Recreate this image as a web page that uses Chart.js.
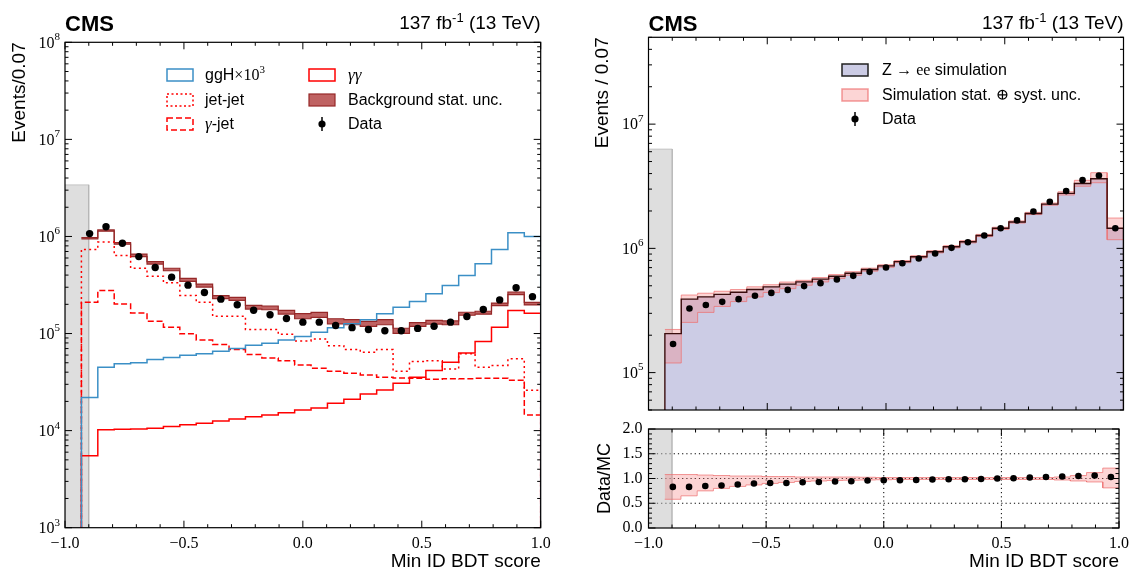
<!DOCTYPE html>
<html><head><meta charset="utf-8">
<script src="https://cdn.jsdelivr.net/npm/chart.js@4.4.1/dist/chart.umd.min.js"></script>
<style>
html,body{margin:0;padding:0;background:#fff;width:1135px;height:572px;overflow:hidden}
canvas{position:absolute}
</style></head><body>
<canvas id="cL" width="580" height="572" style="left:0;top:0"></canvas>
<canvas id="cR" width="555" height="420" style="left:580px;top:0"></canvas>
<canvas id="cQ" width="555" height="152" style="left:580px;top:420px"></canvas>
<script>
// ---------- data ----------
const binEdges = [-0.93103,-0.86207,-0.79310,-0.72414,-0.65517,-0.58621,-0.51724,-0.44828,-0.37931,-0.31034,-0.24138,-0.17241,-0.10345,-0.03448,0.03448,0.10345,0.17241,0.24138,0.31034,0.37931,0.44828,0.51724,0.58621,0.65517,0.72414,0.79310,0.86207,0.93103,1.0];
// left panel
const ggHx1000 = [2.2e4,4.5e4,4.87e4,5.0e4,5.4e4,5.66e4,5.97e4,6.2e4,6.58e4,7.0e4,7.57e4,7.94e4,8.6e4,9.3e4,1.03e5,1.15e5,1.26e5,1.39e5,1.6e5,1.87e5,2.14e5,2.57e5,3.12e5,3.96e5,5.23e5,7.35e5,1.09e6,1.0e6];
const diphoton = [5.5e3,1.02e4,1.03e4,1.04e4,1.06e4,1.10e4,1.15e4,1.19e4,1.26e4,1.32e4,1.39e4,1.45e4,1.53e4,1.63e4,1.71e4,1.91e4,2.1e4,2.39e4,2.62e4,3.07e4,3.55e4,4.16e4,5.06e4,6.3e4,8.3e4,1.16e5,1.73e5,1.62e5];
const jetjet = [7.35e5,8.75e5,6.37e5,4.71e5,3.9e5,3.33e5,2.47e5,2.1e5,1.51e5,1.51e5,1.1e5,1.1e5,9.84e4,8.4e4,8.8e4,7.5e4,6.84e4,6.4e4,6.84e4,4.08e4,5.14e4,5.26e4,4.3e4,6.18e4,4.5e4,4.68e4,5.5e4,2.6e4];
const gammajet = [2.1e5,2.78e5,2.02e5,1.63e5,1.34e5,1.16e5,9.93e4,8.6e4,7.7e4,6.84e4,6.1e4,5.6e4,5.26e4,4.75e4,4.39e4,4.08e4,3.9e4,3.75e4,3.55e4,3.49e4,3.46e4,3.38e4,3.43e4,3.42e4,3.46e4,3.46e4,3.3e4,1.45e4];
const bkgTotal = [9.6e5,1.15e6,8.5e5,6.4e5,5.35e5,4.57e5,3.57e5,3.12e5,2.37e5,2.28e5,1.87e5,1.84e5,1.66e5,1.51e5,1.56e5,1.34e5,1.31e5,1.26e5,1.31e5,1.07e5,1.24e5,1.31e5,1.29e5,1.6e5,1.64e5,2.0e5,2.6e5,2.03e5];
const bkgStatUnc = [0.015,0.015,0.02,0.03,0.03,0.03,0.035,0.035,0.035,0.035,0.045,0.045,0.045,0.06,0.06,0.06,0.06,0.06,0.06,0.06,0.045,0.045,0.045,0.035,0.035,0.03,0.03,0.03];
const dataLeft = [1.07e6,1.26e6,8.5e5,6.2e5,4.79e5,3.81e5,3.15e5,2.65e5,2.26e5,1.98e5,1.74e5,1.56e5,1.43e5,1.31e5,1.31e5,1.21e5,1.15e5,1.1e5,1.07e5,1.07e5,1.13e5,1.19e5,1.31e5,1.5e5,1.77e5,2.22e5,2.96e5,2.4e5];
// right panel
const zeeSim = [2.06e5,3.9e5,4.07e5,4.26e5,4.44e5,4.67e5,4.9e5,5.15e5,5.37e5,5.65e5,5.97e5,6.3e5,6.76e5,7.23e5,7.82e5,8.55e5,9.38e5,1.03e6,1.13e6,1.27e6,1.45e6,1.63e6,1.91e6,2.27e6,2.77e6,3.33e6,3.63e6,1.45e6];
const simUncUp = [1.08,1.08,1.07,1.06,1.05,1.05,1.04,1.04,1.03,1.03,1.03,1.03,1.025,1.02,1.02,1.02,1.02,1.02,1.02,1.02,1.02,1.02,1.02,1.02,1.03,1.06,1.12,1.21];
const simUncDown = [0.58,0.65,0.75,0.80,0.84,0.87,0.90,0.92,0.94,0.95,0.96,0.965,0.97,0.975,0.98,0.98,0.98,0.98,0.98,0.98,0.98,0.98,0.98,0.98,0.97,0.95,0.93,0.81];
const dataRight = [1.7e5,3.28e5,3.5e5,3.71e5,3.9e5,4.15e5,4.38e5,4.63e5,4.97e5,5.25e5,5.61e5,6.01e5,6.47e5,7.02e5,7.6e5,8.28e5,9.1e5,1.01e6,1.12e6,1.27e6,1.45e6,1.68e6,1.98e6,2.37e6,2.89e6,3.54e6,3.86e6,1.45e6];
const ratioDataMC = [0.83,0.83,0.85,0.86,0.88,0.90,0.91,0.91,0.925,0.93,0.94,0.945,0.96,0.965,0.965,0.97,0.98,0.985,0.985,0.99,1.0,1.005,1.02,1.03,1.04,1.05,1.06,1.03];
// excluded region (grey) and axis ranges
const excludedX = [-1.0, -0.9];
const excludedTopLeft = 3.4e6, excludedTopRight = 6.3e6;
const leftYRange = [1e3, 1e8], rightYRange = [5e4, 5e7], ratioYRange = [0, 2];
const ratioGridX = [-0.5, 0, 0.5], ratioGridY = [0.5, 1.0, 1.5];

// ---------- helpers ----------
const SANS = '"Liberation Sans", Arial, Helvetica, sans-serif';
const SERIF = '"Liberation Serif", "DejaVu Serif", "Times New Roman", serif';
const F = (s, fam, st) => (st ? st + ' ' : '') + s + 'px ' + fam;
const binCenters = binEdges.slice(0, -1).map((e, i) => (e + binEdges[i + 1]) / 2);
function histPts(vals, floor) {
  const p = [{x: binEdges[0], y: floor}];
  vals.forEach((v, i) => { p.push({x: binEdges[i], y: v}); p.push({x: binEdges[i + 1], y: v}); });
  p.push({x: binEdges[binEdges.length - 1], y: floor});
  return p;
}
function pairPts(vals) {
  const p = [];
  vals.forEach((v, i) => { p.push({x: binEdges[i], y: v}); p.push({x: binEdges[i + 1], y: v}); });
  return p;
}
const dotPts = vals => vals.map((v, i) => ({x: binCenters[i], y: v}));
const boxPts = (lo, hi) => [{x: excludedX[0], y: lo}, {x: excludedX[0], y: hi}, {x: excludedX[1], y: hi}, {x: excludedX[1], y: lo}];

const BLUE = '#3b8fc6', RED = '#ff0000';
const BANDF = 'rgba(170,45,45,0.75)', BANDE = '#962828';
const SIMF = '#ccccE5', SIMLINE = '#3a0d0d';
const PINKF = 'rgba(245,128,128,0.33)', PINKE = 'rgba(238,110,110,0.7)';
const GREYF = 'rgba(190,190,190,0.5)', GREYE = 'rgba(170,170,170,0.55)';

function drawRich(ctx, x, y, segs, align) {
  let w = 0;
  segs.forEach(s => { ctx.font = s.f; w += ctx.measureText(s.t).width; });
  let cx = align === 'right' ? x - w : (align === 'center' ? x - w / 2 : x);
  ctx.textAlign = 'left';
  segs.forEach(s => { ctx.font = s.f; ctx.fillText(s.t, cx, y + (s.dy || 0)); cx += ctx.measureText(s.t).width; });
}
function drawMarker(ctx, mk, x, y) {
  ctx.save();
  if (mk.type === 'box') {
    if (mk.fill) { ctx.fillStyle = mk.fill; ctx.fillRect(x, y - 6, 26, 12); }
    ctx.strokeStyle = mk.stroke; ctx.lineWidth = mk.lw || 1.5; ctx.setLineDash(mk.dash || []);
    ctx.strokeRect(x, y - 6, 26, 12);
  } else {
    ctx.strokeStyle = '#000'; ctx.lineWidth = 1.5;
    ctx.beginPath(); ctx.moveTo(x + 13, y - 7); ctx.lineTo(x + 13, y + 7); ctx.stroke();
    ctx.fillStyle = '#000'; ctx.beginPath(); ctx.arc(x + 13, y, 3.6, 0, Math.PI * 2); ctx.fill();
  }
  ctx.restore();
}

function makeDecor(cfg) {
  return {
    id: 'hepDecor',
    beforeDatasetsDraw(chart) {
      if (!cfg.gridX) return;
      const {ctx, chartArea: a, scales: {x, y}} = chart;
      ctx.save(); ctx.strokeStyle = '#000'; ctx.lineWidth = 1; ctx.setLineDash([1.2, 3]);
      cfg.gridX.forEach(v => { const p = x.getPixelForValue(v); ctx.beginPath(); ctx.moveTo(p, a.top); ctx.lineTo(p, a.bottom); ctx.stroke(); });
      cfg.gridY.forEach(v => { const p = y.getPixelForValue(v); ctx.beginPath(); ctx.moveTo(a.left, p); ctx.lineTo(a.right, p); ctx.stroke(); });
      ctx.restore();
    },
    afterDatasetsDraw(chart) {
      const {ctx, chartArea: a, scales: {x, y}} = chart;
      ctx.save();
      ctx.strokeStyle = '#000'; ctx.lineWidth = 1; ctx.setLineDash([]);
      const seg = (x1, y1, x2, y2) => { ctx.beginPath(); ctx.moveTo(x1, y1); ctx.lineTo(x2, y2); ctx.stroke(); };
      for (let i = Math.round(x.min * 10); i <= Math.round(x.max * 10); i++) {
        const px = x.getPixelForValue(i / 10); const L = (i % 5 === 0) ? 7 : 3.5;
        seg(px, a.bottom, px, a.bottom - L); seg(px, a.top, px, a.top + L);
      }
      ctx.fillStyle = '#000'; ctx.textBaseline = 'middle';
      if (y.type === 'logarithmic') {
        const e0 = Math.floor(Math.log10(y.min)), e1 = Math.ceil(Math.log10(y.max));
        for (let e = e0; e <= e1; e++) for (let m = 1; m <= 9; m++) {
          const v = m * Math.pow(10, e);
          if (v < y.min * 0.999 || v > y.max * 1.001) continue;
          const py = y.getPixelForValue(v); const L = m === 1 ? 7 : 3.5;
          seg(a.left, py, a.left + L, py); seg(a.right, py, a.right - L, py);
          if (m === 1) drawRich(ctx, a.left - 5, py + 1, [{t: '10', f: F(16, SERIF)}, {t: String(e), f: F(11, SERIF), dy: -6}], 'right');
        }
      } else {
        for (let i = Math.round(y.min * 10); i <= Math.round(y.max * 10); i++) {
          const py = y.getPixelForValue(i / 10); const L = (i % 5 === 0) ? 7 : 3.5;
          seg(a.left, py, a.left + L, py); seg(a.right, py, a.right - L, py);
        }
      }
      ctx.lineWidth = 1.2; ctx.strokeRect(a.left, a.top, a.right - a.left, a.bottom - a.top);
      ctx.restore();
    },
    afterDraw(chart) {
      const {ctx, chartArea: a} = chart;
      ctx.save(); ctx.fillStyle = '#000';
      if (cfg.header) {
        ctx.textBaseline = 'alphabetic';
        drawRich(ctx, a.left, 31, [{t: 'CMS', f: F(22, SANS, 'bold')}], 'left');
        drawRich(ctx, a.right, 29, [{t: '137 fb', f: F(19, SANS)}, {t: '-1', f: F(13, SANS), dy: -7}, {t: ' (13 TeV)', f: F(19, SANS)}], 'right');
      }
      (cfg.legend || []).forEach(it => {
        drawMarker(ctx, it.mk, it.x, it.y);
        ctx.fillStyle = '#000'; ctx.textBaseline = 'middle';
        drawRich(ctx, it.tx, it.y + 1, it.segs, 'left');
      });
      ctx.restore();
    }
  };
}

function lineDs(label, data, color, extra) {
  return Object.assign({label, data, borderColor: color, borderWidth: 1.5, pointRadius: 0, fill: false, tension: 0}, extra || {});
}
function dotDs(label, data, r) {
  return {label, data, showLine: false, pointRadius: r, pointHoverRadius: r, pointBackgroundColor: '#000', pointBorderWidth: 0, borderColor: '#000', order: 0};
}
const xLab = v => { const k = Math.round(v * 10); if (k % 5 !== 0) return ''; const n = k / 10; return (n < 0 ? '\u2212' : '') + Math.abs(n).toFixed(1); };
const common = {responsive: false, animation: false, events: [], devicePixelRatio: 1,
  plugins: {legend: {display: false}, tooltip: {enabled: false}}};

// ---------- left chart ----------
new Chart(document.getElementById('cL'), {
  type: 'line',
  data: {datasets: [
    dotDs('Data', dotPts(dataLeft), 3.7),
    lineDs('ggH×10³', histPts(ggHx1000, leftYRange[0]), BLUE, {order: 1}),
    lineDs('γγ', histPts(diphoton, leftYRange[0]), RED, {order: 2}),
    lineDs('jet-jet', histPts(jetjet, leftYRange[0]), RED, {order: 3, borderDash: [2, 3.2]}),
    lineDs('γ-jet', histPts(gammajet, leftYRange[0]), RED, {order: 4, borderDash: [6, 2.8]}),
    lineDs('bkg up', pairPts(bkgTotal.map((v, i) => v * (1 + bkgStatUnc[i]))), BANDE, {order: 5, borderWidth: 1.2}),
    lineDs('Background stat. unc.', pairPts(bkgTotal.map((v, i) => v * (1 - bkgStatUnc[i]))), BANDE, {order: 5, borderWidth: 1.2, fill: '-1', backgroundColor: BANDF}),
    lineDs('excluded', boxPts(leftYRange[0], excludedTopLeft), GREYE, {order: 6, borderWidth: 1, fill: 'start', backgroundColor: GREYF})
  ]},
  options: Object.assign({}, common, {
    layout: {padding: {left: 0, top: 42.3, right: 39.3, bottom: 0}},
    scales: {
      x: {type: 'linear', min: -1, max: 1, grid: {display: false, drawTicks: false}, border: {display: false},
          ticks: {stepSize: 0.1, autoSkip: false, maxRotation: 0, padding: 6, color: '#000', font: {family: SERIF, size: 16}, callback: xLab},
          title: {display: true, text: 'Min ID BDT score', align: 'end', color: '#000', font: {family: SANS, size: 19, lineHeight: 1}, padding: {top: 0, bottom: 1}},
          afterFit: s => { s.height = 44.3; }},
      y: {type: 'logarithmic', min: leftYRange[0], max: leftYRange[1], grid: {display: false, drawTicks: false}, border: {display: false},
          ticks: {display: false},
          title: {display: true, text: 'Events/0.07', align: 'end', color: '#000', font: {family: SANS, size: 19, lineHeight: 1}, padding: {top: 10, bottom: 0}},
          afterFit: s => { s.width = 65; }}
    }
  }),
  plugins: [makeDecor({header: true, legend: [
    {mk: {type: 'box', stroke: BLUE}, x: 167, tx: 205, y: 75, segs: [{t: 'ggH', f: F(16, SANS)}, {t: '\u00d710', f: F(16, SERIF)}, {t: '3', f: F(11, SERIF), dy: -6}]},
    {mk: {type: 'box', stroke: RED, dash: [2, 2.5]}, x: 167, tx: 205, y: 100, segs: [{t: 'jet-jet', f: F(16, SANS)}]},
    {mk: {type: 'box', stroke: RED, dash: [6, 3]}, x: 167, tx: 205, y: 124, segs: [{t: '\u03b3', f: F(17, SERIF, 'italic')}, {t: '-jet', f: F(16, SANS)}]},
    {mk: {type: 'box', stroke: RED}, x: 309, tx: 348, y: 75, segs: [{t: '\u03b3\u03b3', f: F(17, SERIF, 'italic')}]},
    {mk: {type: 'box', stroke: BANDE, fill: BANDF, lw: 1.2}, x: 309, tx: 348, y: 100, segs: [{t: 'Background stat. unc.', f: F(16, SANS)}]},
    {mk: {type: 'dot'}, x: 309, tx: 348, y: 124, segs: [{t: 'Data', f: F(16, SANS)}]}
  ]})]
});

// ---------- right main chart ----------
new Chart(document.getElementById('cR'), {
  type: 'line',
  data: {datasets: [
    dotDs('Data', dotPts(dataRight), 3.3),
    lineDs('sim outline', histPts(zeeSim, rightYRange[0]), SIMLINE, {order: 1, borderWidth: 1.4}),
    lineDs('unc up', pairPts(zeeSim.map((v, i) => v * simUncUp[i])), PINKE, {order: 2, borderWidth: 1}),
    lineDs('Simulation stat. ⊕ syst. unc.', pairPts(zeeSim.map((v, i) => v * simUncDown[i])), PINKE, {order: 2, borderWidth: 1, fill: '-1', backgroundColor: PINKF}),
    lineDs('Z → ee simulation', histPts(zeeSim, rightYRange[0]), 'rgba(0,0,0,0)', {order: 3, borderWidth: 0, fill: 'start', backgroundColor: SIMF}),
    lineDs('excluded', boxPts(rightYRange[0], excludedTopRight), GREYE, {order: 4, borderWidth: 1, fill: 'start', backgroundColor: GREYF})
  ]},
  options: Object.assign({}, common, {
    layout: {padding: {left: 0, top: 37.3, right: 11.5, bottom: 0}},
    scales: {
      x: {type: 'linear', min: -1, max: 1, grid: {display: false, drawTicks: false}, border: {display: false},
          ticks: {display: false, stepSize: 0.1}, afterFit: s => { s.height = 10; }},
      y: {type: 'logarithmic', min: rightYRange[0], max: rightYRange[1], grid: {display: false, drawTicks: false}, border: {display: false},
          ticks: {display: false},
          title: {display: true, text: 'Events / 0.07', align: 'end', color: '#000', font: {family: SANS, size: 19, lineHeight: 1}, padding: {top: 13.5, bottom: 0}},
          afterFit: s => { s.width = 68.5; }}
    }
  }),
  plugins: [makeDecor({header: true, legend: [
    {mk: {type: 'box', stroke: '#222', fill: SIMF, lw: 1.5}, x: 262, tx: 302, y: 70, segs: [{t: 'Z ', f: F(16, SANS)}, {t: '\u2192 ', f: F(16, SERIF)}, {t: 'ee', f: F(16, SERIF)}, {t: ' simulation', f: F(16, SANS)}]},
    {mk: {type: 'box', stroke: PINKE, fill: PINKF, lw: 1.5}, x: 262, tx: 302, y: 95, segs: [{t: 'Simulation stat. ', f: F(16, SANS)}, {t: '\u2295', f: F(16, SERIF)}, {t: ' syst. unc.', f: F(16, SANS)}]},
    {mk: {type: 'dot'}, x: 262, tx: 302, y: 119, segs: [{t: 'Data', f: F(16, SANS)}]}
  ]})]
});

// ---------- ratio chart ----------
new Chart(document.getElementById('cQ'), {
  type: 'line',
  data: {datasets: [
    dotDs('Data/MC', dotPts(ratioDataMC), 3.3),
    lineDs('unc up', pairPts(simUncUp), PINKE, {order: 1, borderWidth: 1}),
    lineDs('unc down', pairPts(simUncDown), PINKE, {order: 1, borderWidth: 1, fill: '-1', backgroundColor: PINKF}),
    lineDs('excluded', boxPts(ratioYRange[0], ratioYRange[1]), GREYE, {order: 3, borderWidth: 1, fill: 'start', backgroundColor: GREYF})
  ]},
  options: Object.assign({}, common, {
    layout: {padding: {left: 0, top: 9, right: 11.5, bottom: 0}},
    scales: {
      x: {type: 'linear', min: -1, max: 1, grid: {display: false, drawTicks: false}, border: {display: false},
          ticks: {stepSize: 0.1, autoSkip: false, maxRotation: 0, padding: 6, color: '#000', font: {family: SERIF, size: 16}, callback: xLab},
          title: {display: true, text: 'Min ID BDT score', align: 'end', color: '#000', font: {family: SANS, size: 19, lineHeight: 1}, padding: {top: 0, bottom: 1}},
          afterFit: s => { s.height = 44; }},
      y: {type: 'linear', min: ratioYRange[0], max: ratioYRange[1], grid: {display: false, drawTicks: false}, border: {display: false},
          ticks: {stepSize: 0.1, autoSkip: false, padding: 6, color: '#000', font: {family: SERIF, size: 16, lineHeight: 0.2},
                  callback: v => { const k = Math.round(v * 10); return k % 5 === 0 ? (k / 10).toFixed(1) : ''; }},
          title: {display: true, text: 'Data/MC', align: 'center', color: '#000', font: {family: SANS, size: 18, lineHeight: 1}, padding: {top: 16.5, bottom: 0}},
          afterFit: s => { s.width = 68.5; }}
    }
  }),
  plugins: [makeDecor({header: false, gridX: ratioGridX, gridY: ratioGridY})]
});
</script>
</body></html>
